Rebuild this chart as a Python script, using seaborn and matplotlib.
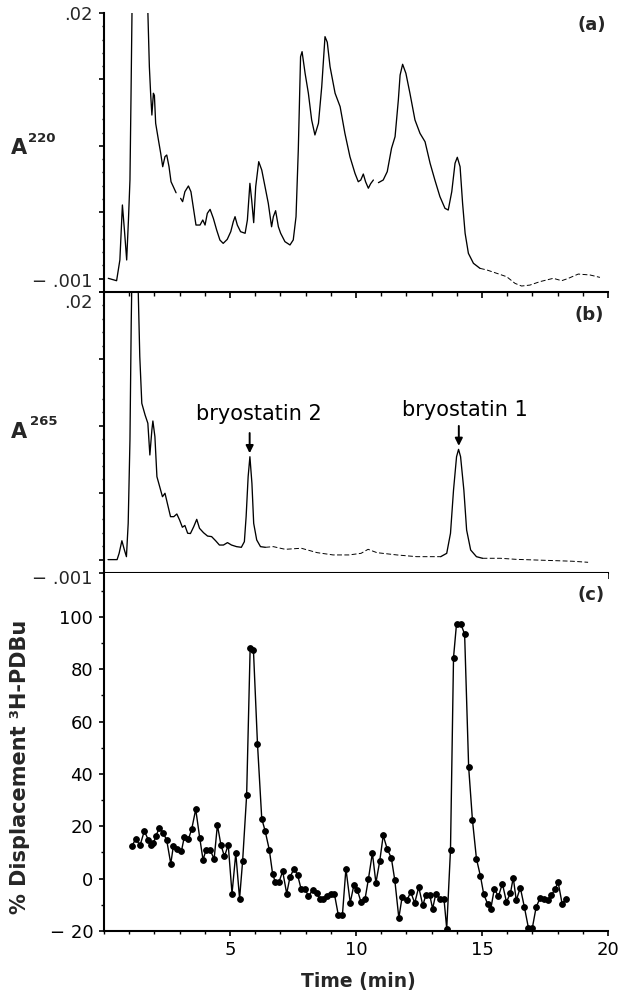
import numpy as np
import pandas as pd
import matplotlib
matplotlib.use("Agg")
import matplotlib.pyplot as plt
import seaborn as sns
from matplotlib.ticker import MultipleLocator, FixedLocator, NullFormatter

# ---------------- data ----------------
# (a) absorbance at 220 nm; the trace is broken into pieces in the original
a220_seg1_time = [0.17, 0.50, 0.63, 0.73, 0.81, 0.90, 0.97, 1.03, 1.07, 1.12, 1.72, 1.80, 1.85,
                  1.90, 1.96, 2.00, 2.05, 2.16, 2.25, 2.33, 2.42, 2.49, 2.58, 2.66, 2.75, 2.86]
a220_seg1_abs = [0.00003, -0.00015, 0.00141, 0.00555, 0.00367, 0.00141, 0.00442, 0.00743, 0.01345,
                 0.0215, 0.0215, 0.01596, 0.01396, 0.01232, 0.01396, 0.0138, 0.0117, 0.01044,
                 0.00944, 0.00843, 0.00919, 0.00931, 0.00843, 0.0073, 0.00693, 0.00647]
a220_seg2_time = [3.04, 3.12, 3.21, 3.35, 3.45, 3.54, 3.65, 3.81, 3.92, 4.01, 4.10, 4.21, 4.34,
                  4.47, 4.60, 4.73, 4.89, 5.03, 5.13, 5.20, 5.29, 5.42, 5.60, 5.69, 5.79, 5.86,
                  5.94, 6.02, 6.14, 6.26, 6.39, 6.52, 6.65, 6.72, 6.81, 6.92, 7.01, 7.18, 7.38,
                  7.51, 7.62, 7.71, 7.80, 7.86, 7.98, 8.11, 8.24, 8.37, 8.51, 8.64, 8.77, 8.86,
                  8.97, 9.17, 9.37, 9.56, 9.76, 9.96, 10.09, 10.19, 10.29, 10.38, 10.49, 10.58, 10.69]
a220_seg2_abs = [0.00605, 0.0058, 0.00655, 0.00698, 0.00655, 0.00542, 0.00404, 0.00404, 0.00442,
                 0.00404, 0.00492, 0.00522, 0.00454, 0.00367, 0.00291, 0.00266, 0.00296, 0.00354,
                 0.00429, 0.00467, 0.00404, 0.00354, 0.00342, 0.00442, 0.00718, 0.00593, 0.00422,
                 0.00693, 0.00881, 0.00818, 0.00693, 0.00567, 0.00391, 0.00467, 0.00512, 0.00391,
                 0.00342, 0.00279, 0.00254, 0.00292, 0.00467, 0.00969, 0.01671, 0.01709, 0.01546,
                 0.01396, 0.01195, 0.01082, 0.0117, 0.01445, 0.01822, 0.0178, 0.01596, 0.01396,
                 0.01295, 0.01094, 0.00918, 0.00793, 0.0073, 0.00743, 0.00788, 0.0073, 0.00681,
                 0.00715, 0.00743]
a220_seg3_time = [10.89, 11.08, 11.24, 11.41, 11.55, 11.68, 11.75, 11.85, 11.98, 12.14, 12.34,
                  12.54, 12.74, 12.94, 13.13, 13.33, 13.53, 13.66, 13.80, 13.93, 14.02, 14.13,
                  14.23, 14.33, 14.46, 14.66, 14.92]
a220_seg3_abs = [0.00723, 0.00743, 0.00806, 0.00982, 0.01069, 0.01345, 0.01533, 0.01614, 0.01546,
                 0.01396, 0.01195, 0.01094, 0.01031, 0.00869, 0.00743, 0.00618, 0.0053, 0.00517,
                 0.00655, 0.00869, 0.00914, 0.00843, 0.00567, 0.00342, 0.00191, 0.00116, 0.00078]
a220_tail_time = [14.92, 15.19, 15.58, 15.98, 16.31, 16.57, 16.90, 17.30, 17.83, 18.16, 18.43,
                  18.82, 19.29, 19.68]
a220_tail_abs = [0.00078, 0.00066, 0.00041, 0.00015, -0.00035, -0.00055, -0.00048, -0.00022,
                 0.00003, -0.00015, 0.00003, 0.00035, 0.00028, 0.0001]

# (b) absorbance at 265 nm
a265_seg1_time = [0.16, 0.52, 0.60, 0.71, 0.81, 0.89, 0.96, 1.03, 1.08, 1.11, 1.34, 1.42, 1.50,
                  1.63, 1.74, 1.82, 1.90, 1.94, 2.02, 2.10, 2.21, 2.32, 2.42, 2.53, 2.64, 2.77,
                  2.89, 3.00, 3.11, 3.21, 3.32, 3.43, 3.56, 3.68, 3.79, 3.95, 4.11, 4.27, 4.43,
                  4.58, 4.74, 4.90, 5.06, 5.26, 5.45, 5.57, 5.64, 5.72, 5.79, 5.87, 5.94, 6.06,
                  6.21, 6.40]
a265_seg1_abs = [0.0, 0.0, 0.00047, 0.00141, 0.00072, 0.00022, 0.00271, 0.00894, 0.01766, 0.0215,
                 0.0215, 0.01517, 0.01168, 0.01081, 0.01019, 0.00782, 0.00969, 0.01036, 0.00919,
                 0.0062, 0.00545, 0.0047, 0.00496, 0.00408, 0.00321, 0.00321, 0.00341, 0.00296,
                 0.00242, 0.00255, 0.00197, 0.00195, 0.00246, 0.00301, 0.00234, 0.00201, 0.00176,
                 0.00172, 0.00141, 0.00109, 0.00109, 0.00127, 0.00109, 0.00097, 0.00092, 0.00134,
                 0.00321, 0.0062, 0.00769, 0.0057, 0.00271, 0.00147, 0.00097, 0.00092]
a265_seg2_time = [6.40, 6.72, 7.19, 7.83, 8.46, 9.09, 9.72, 10.20, 10.48, 10.83, 11.62, 12.41,
                  13.20, 13.36]
a265_seg2_abs = [0.00092, 0.00097, 0.00077, 0.00085, 0.00052, 0.00035, 0.00035, 0.00047, 0.00077,
                 0.00052, 0.00035, 0.00022, 0.00022, 0.00022]
a265_seg3_time = [13.36, 13.60, 13.75, 13.87, 13.99, 14.07, 14.15, 14.28, 14.39, 14.55, 14.78, 15.02]
a265_seg3_abs = [0.00022, 0.00047, 0.00197, 0.0052, 0.00769, 0.00824, 0.00769, 0.0052, 0.00221,
                 0.00072, 0.00022, 0.0001]
a265_seg4_time = [15.02, 15.73, 16.36, 17.15, 17.94, 18.58, 19.21]
a265_seg4_abs = [0.0001, 0.0001, 0.00002, -0.00003, -0.00008, -0.00012, -0.0002]

# (c) % displacement of 3H-PDBu binding
pdbu_time = [1.10, 1.26, 1.43, 1.60, 1.76, 1.87, 1.96, 2.06, 2.20, 2.35, 2.49, 2.65, 2.75, 2.91,
             3.07, 3.19, 3.35, 3.48, 3.64, 3.80, 3.93, 4.05, 4.21, 4.37, 4.50, 4.64, 4.78, 4.93,
             5.08, 5.23, 5.38, 5.50, 5.66, 5.80, 5.93, 6.09, 6.26, 6.39, 6.56, 6.69, 6.80, 6.94,
             7.09, 7.25, 7.38, 7.54, 7.68, 7.82, 7.98, 8.11, 8.28, 8.44, 8.57, 8.70, 8.84, 8.99,
             9.14, 9.30, 9.46, 9.60, 9.77, 9.92, 10.05, 10.20, 10.36, 10.49, 10.65, 10.79, 10.94,
             11.08, 11.24, 11.40, 11.54, 11.70, 11.83, 12.02, 12.17, 12.33, 12.49, 12.65, 12.77,
             12.93, 13.04, 13.17, 13.33, 13.49, 13.60, 13.75, 13.87, 13.99, 14.15, 14.31, 14.47,
             14.62, 14.78, 14.94, 15.07, 15.23, 15.35, 15.49, 15.65, 15.81, 15.97, 16.13, 16.24,
             16.36, 16.52, 16.68, 16.84, 17.00, 17.15, 17.31, 17.47, 17.60, 17.75, 17.91, 18.02,
             18.18, 18.34]
pdbu_displacement = [12.3, 15.2, 12.7, 18.2, 14.8, 12.7, 13.5, 16.3, 19.5, 17.6, 14.6, 5.7, 12.3,
                     11.3, 10.4, 16.1, 15.1, 18.9, 26.5, 15.5, 7.2, 11.0, 11.0, 7.5, 20.5, 12.9,
                     8.5, 12.9, -5.7, 9.7, -7.6, 6.6, 31.8, 88.2, 87.3, 51.6, 22.9, 18.4, 11.0,
                     1.9, -1.4, -1.4, 2.8, -5.7, 0.6, 3.8, 1.5, -3.9, -3.9, -6.7, -4.4, -5.4, -7.7,
                     -7.7, -6.7, -5.7, -5.7, -14.0, -14.0, 3.8, -9.2, -2.3, -4.2, -9.0, -7.7, -0.3,
                     9.8, -1.6, 6.6, 16.5, 11.3, 8.0, -0.6, -15.0, -7.0, -8.3, -5.1, -9.3, -3.2,
                     -10.2, -6.4, -6.4, -11.5, -5.7, -7.6, -7.6, -19.1, 11.1, 84.5, 97.5, 97.5,
                     93.5, 42.7, 22.5, 7.6, 0.9, -6.0, -9.8, -11.5, -3.8, -6.8, -1.9, -8.9, -5.5,
                     0.4, -8.3, -3.4, -10.8, -18.7, -18.7, -10.8, -7.3, -7.6, -8.3, -6.4, -3.8,
                     -1.3, -9.6, -7.6]

peak_labels = ["bryostatin 2", "bryostatin 1"]
peak_times = [5.78, 14.08]

y_abs_ticklabels = ["\u2212 .001", ".02"]
x_ticks_c = [5, 10, 15, 20]
y_ticks_c = [-20, 0, 20, 40, 60, 80, 100]


def trace_frame(pieces):
    rows = []
    for name, (t, v, style) in pieces.items():
        rows.append(pd.DataFrame({"time": t, "abs": v, "seg": name, "style": style}))
    return pd.concat(rows, ignore_index=True)


df_a = trace_frame({
    "s1": (a220_seg1_time, a220_seg1_abs, "solid"),
    "s2": (a220_seg2_time, a220_seg2_abs, "solid"),
    "s3": (a220_seg3_time, a220_seg3_abs, "solid"),
    "tail": (a220_tail_time, a220_tail_abs, "dash"),
})
df_b = trace_frame({
    "s1": (a265_seg1_time, a265_seg1_abs, "solid"),
    "s2": (a265_seg2_time, a265_seg2_abs, "dash"),
    "s3": (a265_seg3_time, a265_seg3_abs, "solid"),
    "s4": (a265_seg4_time, a265_seg4_abs, "dash"),
})
df_c = pd.DataFrame({"time": pdbu_time, "disp": pdbu_displacement})

# ---------------- style ----------------
sns.set_theme(style="ticks")
plt.rcParams["font.family"] = ["DejaVu Sans"]
plt.rcParams["axes.linewidth"] = 1.5

fig = plt.figure(figsize=(6.21, 9.99), dpi=100)
W, H = 621.0, 999.0
left, width = 104 / W, 504 / W
ax_a = fig.add_axes([left, 1 - 292 / H, width, 279 / H])
ax_b = fig.add_axes([left, 1 - 573 / H, width, 281 / H])
ax_c = fig.add_axes([left, 1 - 931 / H, width, 358 / H])


def draw_trace(ax, df):
    solid = df[df["style"] == "solid"]
    dash = df[df["style"] == "dash"]
    sns.lineplot(data=solid, x="time", y="abs", units="seg", estimator=None, sort=False,
                 color="black", lw=0.95, ax=ax, legend=False)
    sns.lineplot(data=dash, x="time", y="abs", units="seg", estimator=None, sort=False,
                 color="black", lw=0.7, ax=ax, legend=False, dashes=False,
                 linestyle=(0, (5, 2.5)))


for ax, df in ((ax_a, df_a), (ax_b, df_b)):
    draw_trace(ax, df)
    ax.set_xlim(0, 20)
    ax.set_ylim(-0.001, 0.02)
    ax.yaxis.set_major_locator(FixedLocator([-0.001, 0.0, 0.005, 0.01, 0.015, 0.02]))
    ax.yaxis.set_minor_locator(MultipleLocator(0.001))
    ax.yaxis.set_major_formatter(NullFormatter())
    ax.xaxis.set_major_locator(MultipleLocator(5))
    ax.xaxis.set_minor_locator(MultipleLocator(1))
    ax.xaxis.set_major_formatter(NullFormatter())
    ax.tick_params(axis="y", which="major", direction="out", length=3.6, width=1.2, color="black")
    ax.tick_params(axis="y", which="minor", direction="out", length=1.8, width=1.0, color="black")
    ax.tick_params(axis="x", which="major", direction="out", length=4.5, width=1.2, color="black")
    ax.tick_params(axis="x", which="minor", direction="out", length=3.2, width=1.0, color="black")
    ax.set_xlabel("")
    ax.set_ylabel("")
    for s in ("top", "right"):
        ax.spines[s].set_visible(False)
    for s in ("left", "bottom"):
        ax.spines[s].set_color("black")
        ax.spines[s].set_linewidth(1.5)
    ax.patch.set_alpha(0)

# y tick labels of the absorbance panels, offset from their ticks as in the original
label_shift = {ax_a: (7.0, -1.5), ax_b: (-4.5, -8.0)}   # points: (low label, high label)
for ax, (dy_low, dy_high) in label_shift.items():
    ax.annotate(y_abs_ticklabels[0], xy=(0, -0.001), xycoords=("axes fraction", "data"),
                xytext=(-8, dy_low), textcoords="offset points",
                ha="right", va="center", fontsize=13, annotation_clip=False)
    ax.annotate(y_abs_ticklabels[1], xy=(0, 0.02), xycoords=("axes fraction", "data"),
                xytext=(-8, dy_high), textcoords="offset points",
                ha="right", va="center", fontsize=13, annotation_clip=False)

# (c)
sns.lineplot(data=df_c, x="time", y="disp", estimator=None, sort=False, color="black", lw=1.0,
             marker="o", markersize=4.1, markeredgecolor="black", markerfacecolor="black",
             ax=ax_c, legend=False)
ax_c.set_xlim(0, 20)
ax_c.set_ylim(-20, 116.8)
ax_c.xaxis.set_major_locator(FixedLocator(x_ticks_c))
ax_c.xaxis.set_minor_locator(MultipleLocator(1))
ax_c.yaxis.set_major_locator(FixedLocator(y_ticks_c))
ax_c.yaxis.set_minor_locator(MultipleLocator(10))
ax_c.set_xticklabels([str(v) for v in x_ticks_c])
ax_c.set_yticklabels([("\u2212 20" if v < 0 else str(v)) for v in y_ticks_c])
ax_c.tick_params(axis="both", which="major", direction="out", length=3.8, width=1.2,
                 labelsize=13, color="black", labelcolor="black")
ax_c.tick_params(axis="y", which="major", pad=4)
ax_c.tick_params(axis="x", which="major", pad=3.5)
ax_c.tick_params(axis="both", which="minor", direction="out", length=2.2, width=1.0, color="black")
ax_c.set_xlabel("")
ax_c.set_ylabel("")
for s in ("top", "right"):
    ax_c.spines[s].set_visible(False)
for s in ("left", "bottom"):
    ax_c.spines[s].set_color("black")
    ax_c.spines[s].set_linewidth(1.5)

# peak annotations in (b)
text_y = [0.01043, 0.01073]
arrow_top = [0.00946, 0.00999]
arrow_tip = [0.00795, 0.00850]
text_x = [6.13, 14.31]
for lab, tx, ty, px, top, tip in zip(peak_labels, text_x, text_y, peak_times, arrow_top, arrow_tip):
    ax_b.text(tx, ty, lab, ha="center", va="baseline", fontsize=15, color="black")
    ax_b.annotate("", xy=(px, tip), xytext=(px, top),
                  arrowprops=dict(arrowstyle="-|>", color="black", lw=1.4, mutation_scale=11,
                                  shrinkA=0, shrinkB=0))

# axis titles and panel tags
fig.text(11 / W, 1 - 154 / H, "A", fontsize=15, fontweight="bold", ha="left", va="baseline")
fig.text(28 / W, 1 - 142 / H, "220", fontsize=9.5, fontweight="bold", ha="left", va="baseline")
fig.text(11 / W, 1 - 438 / H, "A", fontsize=15, fontweight="bold", ha="left", va="baseline")
fig.text(30 / W, 1 - 425 / H, "265", fontsize=9.5, fontweight="bold", ha="left", va="baseline")
fig.text(20 / W, 1 - 767 / H, "% Displacement \u00b3H-PDBu", rotation=90, fontsize=15,
         fontweight="bold", ha="center", va="center")
fig.text(358 / W, 1 - 981 / H, "Time (min)", fontsize=13.5, fontweight="bold",
         ha="center", va="center")
fig.text(606 / W, 1 - 24.5 / H, "(a)", fontsize=13, fontweight="bold", ha="right", va="center")
fig.text(604 / W, 1 - 315 / H, "(b)", fontsize=13, fontweight="bold", ha="right", va="center")
fig.text(605 / W, 1 - 595 / H, "(c)", fontsize=13, fontweight="bold", ha="right", va="center")

fig.savefig("out.png", dpi=100, facecolor="white")
